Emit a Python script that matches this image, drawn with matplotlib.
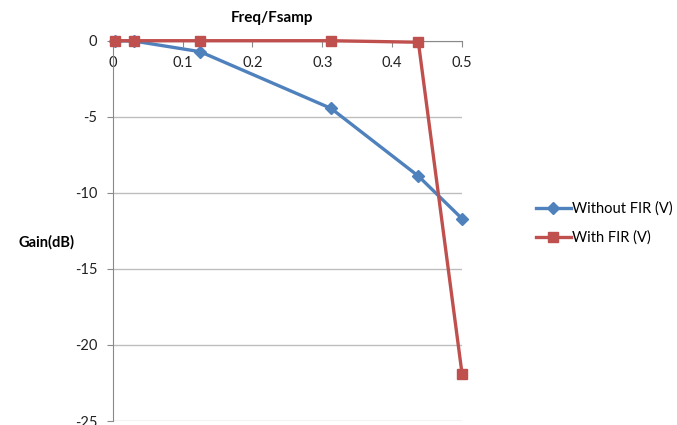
import matplotlib.pyplot as plt
from matplotlib.ticker import MultipleLocator

plt.rcParams['font.family'] = ['Lato', 'DejaVu Sans']
plt.rcParams['axes.unicode_minus'] = False

# data
freq = [0.0039, 0.03, 0.125, 0.3125, 0.4375, 0.5]
gain_no_fir = [0.0, -0.02, -0.72, -4.45, -8.9, -11.7]
gain_fir = [0.0, 0.0, 0.0, 0.0, -0.1, -21.9]

blue = '#4F81BD'
red = '#C0504D'
grey = '#898989'

fig = plt.figure(figsize=(6.77, 4.25), dpi=100)
ax = fig.add_axes([0.1665, 0.0094, 0.516, 0.8948])

ax.plot(freq, gain_no_fir, color=blue, lw=2.4, marker='D', ms=6,
        label='Without FIR (V)', clip_on=False, zorder=3)
ax.plot(freq, gain_fir, color=red, lw=2.4, marker='s', ms=7.5,
        label='With FIR (V)', clip_on=False, zorder=4)

ax.set_xlim(0, 0.5)
ax.set_ylim(-25, 0)
ax.yaxis.set_major_locator(MultipleLocator(5))
ax.set_xticks([0, 0.1, 0.2, 0.3, 0.4, 0.5], ['0', '0.1', '0.2', '0.3', '0.4', '0.5'])

ax.grid(axis='y', color='#bdbdbd', lw=1)
ax.set_axisbelow(True)

for s in ['top', 'right']:
    ax.spines[s].set_visible(False)
ax.spines['bottom'].set_position(('data', 0))
ax.spines['bottom'].set_color(grey)
ax.spines['left'].set_color(grey)

ax.tick_params(axis='x', direction='out', length=4, color=grey, pad=7,
               labelsize=10.5, labelcolor='#222222')
ax.tick_params(axis='y', direction='out', length=4, color=grey, pad=7,
               labelsize=10.5, labelcolor='#222222')

fig.text(272 / 677, 1 - 18 / 425, 'Freq/Fsamp', fontsize=11, fontweight='bold',
         ha='center', va='center')
fig.text(46 / 677, 1 - 242 / 425, 'Gain(dB)', fontsize=10.5, fontweight='bold',
         ha='center', va='center')

ax.legend(loc='center left', bbox_to_anchor=(530 / 677, 1 - 223 / 425),
          bbox_transform=fig.transFigure, frameon=False, fontsize=10.5,
          handlelength=2.4, handletextpad=0.1, labelspacing=1.0,
          borderaxespad=0)

fig.savefig('out.png', dpi=100)
